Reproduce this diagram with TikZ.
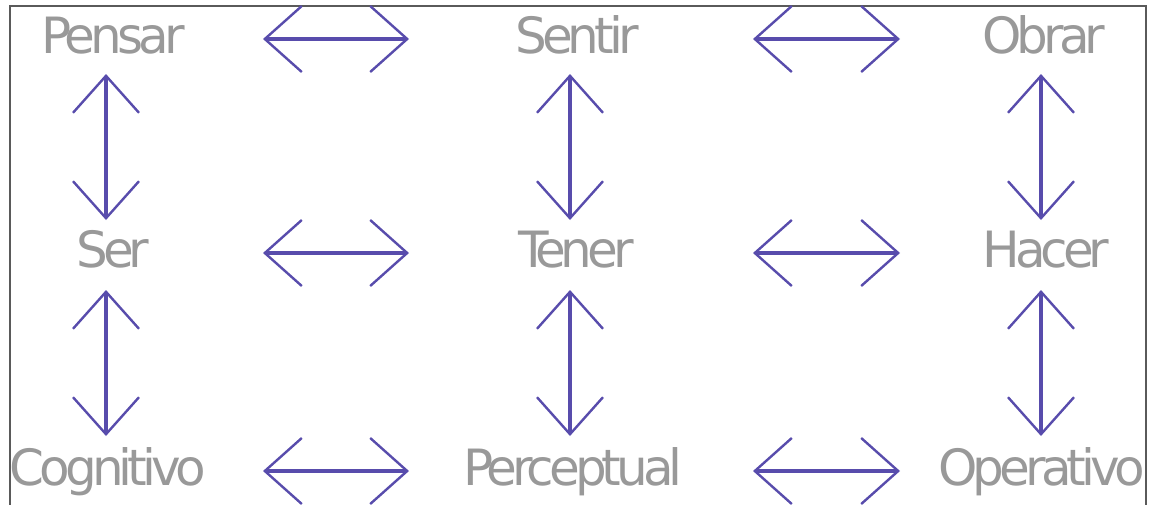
\documentclass[tikz,border=0pt]{standalone}
\usepackage{fontspec}
\setmainfont{DejaVu Sans}[LetterSpace=-10]
\usetikzlibrary{arrows.meta}
\definecolor{arrowc}{RGB}{88,76,172}
\definecolor{textc}{RGB}{153,153,153}
\definecolor{framec}{RGB}{90,90,90}
\tikzset{
  word/.style={text=textc, font=\fontsize{50}{56}\selectfont, anchor=base, inner sep=0pt},
  dblarrow/.style={draw=arrowc, line width=3.4pt,
    {Straight Barb[length=37pt, width=66pt, line width=2.4pt]}-{Straight Barb[length=37pt, width=66pt, line width=2.4pt]}}
}
\begin{document}
\begin{tikzpicture}[x=1pt,y=-1pt]
\useasboundingbox (0,0) rectangle (1157,504);
\clip (0,0) rectangle (1157,504);
\draw[framec, line width=1.3pt] (10,6) rectangle (1146,530);
% words
\node[word] (pensar) at (113,53) {Pensar};
\node[word] (sentir) at (577,53) {Sentir};
\node[word] (obrar) at (1044,53) {Obrar};
\node[word] (ser) at (113,267) {Ser};
\node[word] (tener) at (576,267) {Tener};
\node[word] (hacer) at (1046,267) {Hacer};
\node[word] (cognitivo) at (108,485) {Cognitivo};
\node[word] (perceptual) at (573,485) {Perceptual};
\node[word] (operativo) at (1042,485) {Operativo};
% arrow end points
\coordinate (h1a) at (263,39);  \coordinate (h1b) at (409,39);
\coordinate (h2a) at (753,39);  \coordinate (h2b) at (900,39);
\coordinate (h3a) at (263,253); \coordinate (h3b) at (409,253);
\coordinate (h4a) at (753,253); \coordinate (h4b) at (900,253);
\coordinate (h5a) at (263,471); \coordinate (h5b) at (409,471);
\coordinate (h6a) at (753,471); \coordinate (h6b) at (900,471);
\coordinate (v1a) at (106,74);  \coordinate (v1b) at (106,220);
\coordinate (v2a) at (570,74);  \coordinate (v2b) at (570,220);
\coordinate (v3a) at (1041,74); \coordinate (v3b) at (1041,220);
\coordinate (v4a) at (106,290); \coordinate (v4b) at (106,436);
\coordinate (v5a) at (570,290); \coordinate (v5b) at (570,436);
\coordinate (v6a) at (1041,290);\coordinate (v6b) at (1041,436);
\foreach \n in {h1,h2,h3,h4,h5,h6,v1,v2,v3,v4,v5,v6}
  \draw[dblarrow] (\n a) -- (\n b);
\end{tikzpicture}
\end{document}
